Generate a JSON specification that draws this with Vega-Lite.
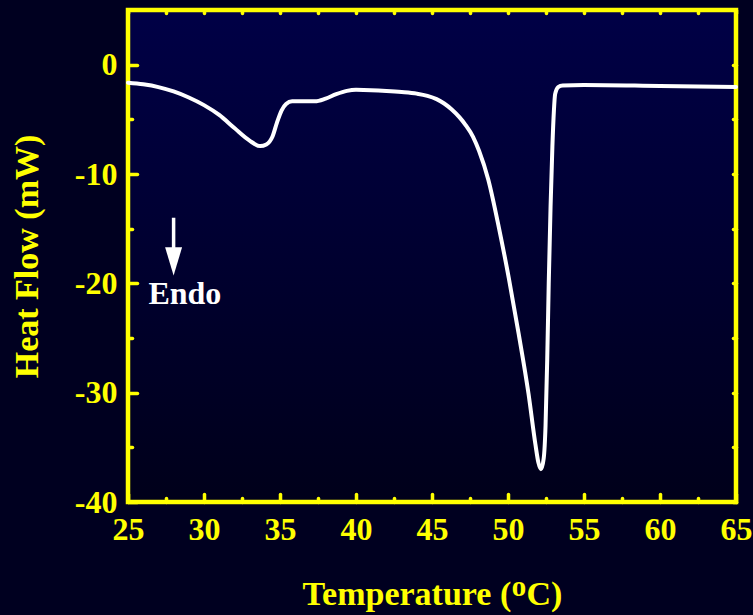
{
  "$schema": "https://vega.github.io/schema/vega-lite/v6.json",
  "width": 608,
  "height": 492,
  "autosize": {"type": "none"},
  "padding": {"left": 128, "top": 10, "right": 17, "bottom": 113},
  "background": "#000020",
  "config": {
    "view": {
      "stroke": "#ffff00",
      "strokeWidth": 4.5,
      "fill": {"gradient": "linear", "x1": 0, "y1": 0, "x2": 0, "y2": 1,
        "stops": [{"offset": 0, "color": "#000046"}, {"offset": 1, "color": "#00001a"}]}
    },
    "axis": {
      "domain": false, "grid": false,
      "tickColor": "#ffff00", "tickWidth": 3.5, "tickCap": "round",
      "labelColor": "#ffff00", "labelFont": "Liberation Serif", "labelFontWeight": "bold", "labelFontSize": 32,
      "labelOverlap": false, "labelFlush": false,
      "titleColor": "#ffff00", "titleFont": "Liberation Serif", "titleFontWeight": "bold", "titleFontSize": 34
    }
  },
  "datasets": {
    "dsc": [
      {"t": 25.0, "hf": -1.65}, {"t": 26.0, "hf": -1.8}, {"t": 27.0, "hf": -2.05}, {"t": 28.0, "hf": -2.45},
      {"t": 29.0, "hf": -3.0}, {"t": 30.0, "hf": -3.7}, {"t": 31.0, "hf": -4.6}, {"t": 32.0, "hf": -5.8},
      {"t": 33.0, "hf": -6.95}, {"t": 33.7, "hf": -7.45}, {"t": 34.1, "hf": -7.3}, {"t": 34.5, "hf": -6.6},
      {"t": 34.8, "hf": -5.3}, {"t": 35.1, "hf": -4.2}, {"t": 35.4, "hf": -3.6}, {"t": 35.8, "hf": -3.35},
      {"t": 36.5, "hf": -3.35}, {"t": 37.3, "hf": -3.35}, {"t": 38.0, "hf": -3.1}, {"t": 38.7, "hf": -2.7},
      {"t": 39.4, "hf": -2.4}, {"t": 40.0, "hf": -2.3}, {"t": 41.0, "hf": -2.33}, {"t": 42.0, "hf": -2.4},
      {"t": 43.0, "hf": -2.5}, {"t": 44.0, "hf": -2.65}, {"t": 44.7, "hf": -2.85}, {"t": 45.3, "hf": -3.15},
      {"t": 45.8, "hf": -3.55}, {"t": 46.3, "hf": -4.1}, {"t": 46.8, "hf": -4.8}, {"t": 47.2, "hf": -5.5},
      {"t": 47.7, "hf": -6.6}, {"t": 48.1, "hf": -7.9},
      {"t": 48.7, "hf": -10.5}, {"t": 49.4, "hf": -14.9}, {"t": 50.05, "hf": -19.5}, {"t": 50.7, "hf": -24.6},
      {"t": 51.35, "hf": -30.1}, {"t": 51.8, "hf": -34.7}, {"t": 52.0, "hf": -36.4}, {"t": 52.17, "hf": -37.0},
      {"t": 52.35, "hf": -36.0}, {"t": 52.47, "hf": -33.0}, {"t": 52.58, "hf": -27.0}, {"t": 52.68, "hf": -20.0},
      {"t": 52.8, "hf": -13.0}, {"t": 52.92, "hf": -7.5}, {"t": 53.02, "hf": -4.2}, {"t": 53.1, "hf": -2.7},
      {"t": 53.3, "hf": -2.05}, {"t": 53.6, "hf": -1.9}, {"t": 55.0, "hf": -1.85}, {"t": 60.0, "hf": -1.95},
      {"t": 65.0, "hf": -2.05}
    ],
    "arrow": [{"x": 28, "y1": -14.0, "y2": -16.9, "head": -18.0}],
    "label": [{"x": 28.74, "y": -21.9, "text": "Endo"}]
  },
  "layer": [
    {
      "data": {"name": "dsc"},
      "mark": {"type": "line", "color": "#ffffff", "strokeWidth": 4, "interpolate": "monotone", "strokeCap": "round", "strokeJoin": "round"},
      "encoding": {
        "x": {
          "field": "t", "type": "quantitative",
          "scale": {"domain": [25, 65], "nice": false, "zero": false},
          "axis": {
            "orient": "bottom",
            "title": "Temperature (ᴼC)",
            "values": [25, 27.5, 30, 32.5, 35, 37.5, 40, 42.5, 45, 47.5, 50, 52.5, 55, 57.5, 60, 62.5, 65],
            "tickSize": {"condition": {"test": "datum.value % 5 === 0", "value": -8}, "value": -4},
            "labelExpr": "datum.value % 5 === 0 ? '' + datum.value : ''",
            "labelPadding": 20,
            "titlePadding": 28
          }
        },
        "y": {
          "field": "hf", "type": "quantitative",
          "scale": {"domain": [-40, 5], "nice": false, "zero": false},
          "axis": {
            "orient": "left",
            "title": "Heat Flow (mW)",
            "values": [-40, -35, -30, -25, -20, -15, -10, -5, 0],
            "tickSize": {"condition": {"test": "datum.value % 10 === 0", "value": -9}, "value": -4},
            "labelExpr": "datum.value % 10 === 0 ? '' + datum.value : ''",
            "labelPadding": 20,
            "titlePadding": 30
          }
        }
      }
    },
    {
      "data": {"name": "dsc"},
      "mark": {"type": "line", "opacity": 0},
      "encoding": {
        "x": {
          "field": "t", "type": "quantitative",
          "axis": {
            "orient": "top", "title": null, "labels": false,
            "values": [25, 27.5, 30, 32.5, 35, 37.5, 40, 42.5, 45, 47.5, 50, 52.5, 55, 57.5, 60, 62.5, 65],
            "tickSize": -3
          }
        },
        "y": {
          "field": "hf", "type": "quantitative",
          "axis": {
            "orient": "right", "title": null, "labels": false,
            "values": [-40, -35, -30, -25, -20, -15, -10, -5, 0],
            "tickSize": -3
          }
        }
      }
    },
    {
      "data": {"name": "arrow"},
      "mark": {"type": "rule", "color": "#ffffff", "strokeWidth": 3.5},
      "encoding": {
        "x": {"field": "x", "type": "quantitative", "axis": null},
        "y": {"field": "y1", "type": "quantitative", "axis": null},
        "y2": {"field": "y2"}
      }
    },
    {
      "data": {"name": "arrow"},
      "mark": {"type": "point", "shape": "M-0.6,-1L0.6,-1L0,1Z", "filled": true, "color": "#ffffff", "opacity": 1, "size": 800},
      "encoding": {
        "x": {"field": "x", "type": "quantitative", "axis": null},
        "y": {"field": "head", "type": "quantitative", "axis": null}
      }
    },
    {
      "data": {"name": "label"},
      "mark": {"type": "text", "color": "#ffffff", "font": "Liberation Serif", "fontWeight": "bold", "fontSize": 32, "align": "center", "baseline": "alphabetic"},
      "encoding": {
        "x": {"field": "x", "type": "quantitative", "axis": null},
        "y": {"field": "y", "type": "quantitative", "axis": null},
        "text": {"field": "text"}
      }
    }
  ],
  "resolve": {"axis": {"x": "independent", "y": "independent"}}
}
